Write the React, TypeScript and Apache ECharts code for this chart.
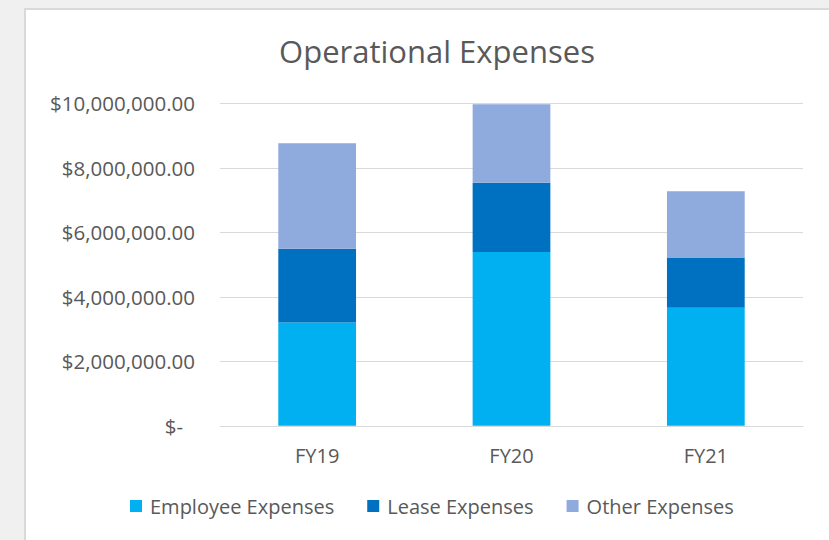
import React, { useEffect, useRef } from "react";
import * as echarts from "echarts";

const categories = ["FY19", "FY20", "FY21"];
const employeeExpenses = [3200000, 5390000, 3660000];
const leaseExpenses = [2290000, 2150000, 1560000];
const otherExpenses = [3270000, 2430000, 2050000];
const seriesNames = ["Employee Expenses", "Lease Expenses", "Other Expenses"];
const seriesColors = ["#00B0F0", "#0070C0", "#8FAADC"];
const yMin = 0;
const yMax = 10000000;
const yInterval = 2000000;

const FONT = "'Open Sans', sans-serif";
const TEXT = "#595959";

function fmtMoney(v: number): string {
  if (v === 0) return "{z|$-}";
  const s = Math.round(v).toString().replace(/\B(?=(\d{3})+(?!\d))/g, ",");
  return "$" + s + ".00";
}

export default function App() {
  const ref = useRef<HTMLDivElement>(null);
  useEffect(() => {
    if (!ref.current) return;
    const chart = echarts.init(ref.current, undefined, { renderer: "svg" });
    const data = [employeeExpenses, leaseExpenses, otherExpenses];
    chart.setOption({
      animation: false,
      backgroundColor: "#f0f0f0",
      graphic: [
        {
          type: "rect",
          shape: { x: 25, y: 9, width: 820, height: 540 },
          style: { fill: "#ffffff", stroke: "#d9d9d9", lineWidth: 2 },
          z: -10,
          silent: true,
        },
      ],
      title: {
        text: "Operational Expenses",
        left: 432,
        top: 30,
        textAlign: "center",
        textStyle: { fontFamily: FONT, fontSize: 31, fontWeight: "normal", color: TEXT },
      },
      legend: {
        data: seriesNames,
        left: 125,
        top: 491,
        itemWidth: 12,
        itemHeight: 12,
        itemGap: 33,
        icon: "rect",
        textStyle: { fontFamily: FONT, fontSize: 20, color: TEXT, padding: [0, 0, 0, 3] },
      },
      grid: { left: 220, right: 26, top: 103.3, bottom: 114.2, containLabel: false },
      xAxis: {
        type: "category",
        data: categories,
        axisLine: { lineStyle: { color: "#d9d9d9", width: 1 } },
        axisTick: { show: false },
        axisLabel: { fontFamily: FONT, fontSize: 20, color: TEXT, margin: 20 },
      },
      yAxis: {
        type: "value",
        min: yMin,
        max: yMax,
        interval: yInterval,
        axisLine: { show: false },
        axisTick: { show: false },
        splitLine: { lineStyle: { color: "#d9d9d9", width: 1 } },
        axisLabel: {
          fontFamily: FONT,
          fontSize: 20.5,
          color: TEXT,
          margin: 25,
          formatter: fmtMoney,
          rich: { z: { fontFamily: FONT, fontSize: 20.5, color: TEXT, padding: [0, 12, 0, 0] } },
        },
      },
      series: seriesNames.map((name, i) => ({
        name,
        type: "bar",
        stack: "total",
        barWidth: "40%",
        data: data[i],
        itemStyle: { color: seriesColors[i] },
      })),
    });
    return () => chart.dispose();
  }, []);
  return (
    <div
      ref={ref}
      style={{ position: "absolute", left: 0, top: 0, width: 829, height: 540 }}
    />
  );
}
